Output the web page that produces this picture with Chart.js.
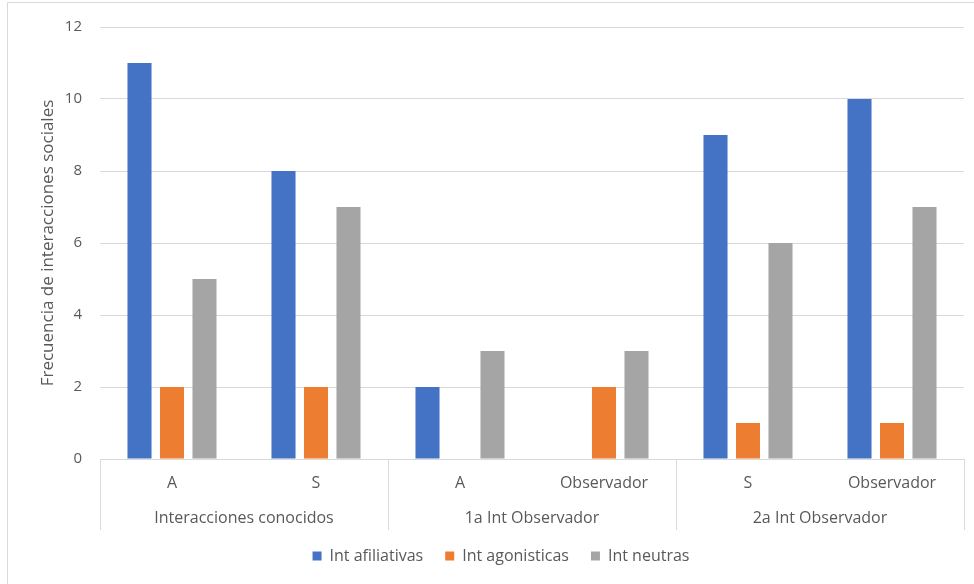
<!DOCTYPE html>
<html>
<head>
<meta charset="utf-8">
<script src="https://cdn.jsdelivr.net/npm/chart.js@4"></script>
<style>
  html, body { margin: 0; padding: 0; background: #ffffff; }
  #wrap { position: relative; width: 974px; height: 584px; }
</style>
</head>
<body>
<div id="wrap"><canvas id="chart" width="974" height="584"></canvas></div>
<script>
// Category labels: inner level (per bar group) and outer level (session)
const subLabels = ['A', 'S', 'A', 'Observador', 'S', 'Observador'];
const groupLabels = ['Interacciones conocidos', '1a Int Observador', '2a Int Observador'];
const groupSizes = [2, 2, 2];

// Series values
const seriesNames = ['Int afiliativas', 'Int agonisticas', 'Int neutras'];
const afiliativas = [11, 8, 2, 0, 9, 10];
const agonisticas = [2, 2, 0, 2, 1, 1];
const neutras = [5, 7, 3, 3, 6, 7];

// Value axis ticks
const yMin = 0, yMax = 12, yStep = 2;
const yTitle = 'Frecuencia de interacciones sociales';

const FONT = "'Open Sans', 'Noto Sans', sans-serif";
const TEXT = '#595959';
const LINE = '#D9D9D9';
const COLORS = ['#4472C4', '#ED7D31', '#A5A5A5'];

// Outer frame of the chart object
const framePlugin = {
  id: 'frame',
  beforeDraw(chart) {
    const ctx = chart.ctx;
    ctx.save();
    ctx.fillStyle = '#ffffff';
    ctx.fillRect(0, 0, chart.width, chart.height);
    ctx.strokeStyle = LINE;
    ctx.lineWidth = 1;
    ctx.beginPath();
    ctx.moveTo(7.5, chart.height);
    ctx.lineTo(7.5, 2.5);
    ctx.lineTo(chart.width, 2.5);
    ctx.stroke();
    ctx.restore();
  }
};

// Two-level category axis: separators between sessions and session names
const groupAxisPlugin = {
  id: 'groupAxis',
  afterDraw(chart) {
    const x = chart.scales.x;
    const area = chart.chartArea;
    const ctx = chart.ctx;
    const n = subLabels.length;
    const boundary = (i) => {
      if (i <= 0) return area.left;
      if (i >= n) return area.right;
      return (x.getPixelForValue(i - 1) + x.getPixelForValue(i)) / 2;
    };
    ctx.save();
    ctx.strokeStyle = LINE;
    ctx.lineWidth = 1;
    let start = 0;
    const edges = [0];
    groupSizes.forEach(s => { start += s; edges.push(start); });
    edges.forEach(i => {
      const px = Math.round(boundary(i)) + 0.5;
      ctx.beginPath();
      ctx.moveTo(px, area.bottom);
      ctx.lineTo(px, area.bottom + 71);
      ctx.stroke();
    });
    ctx.fillStyle = TEXT;
    ctx.font = "16px " + FONT;
    ctx.textAlign = 'center';
    ctx.textBaseline = 'middle';
    groupLabels.forEach((g, k) => {
      const cx = (boundary(edges[k]) + boundary(edges[k + 1])) / 2;
      ctx.fillText(g, cx, area.bottom + 59);
    });
    ctx.restore();
  }
};

new Chart(document.getElementById('chart'), {
  type: 'bar',
  data: {
    labels: subLabels,
    datasets: [
      { label: seriesNames[0], data: afiliativas, backgroundColor: COLORS[0] },
      { label: seriesNames[1], data: agonisticas, backgroundColor: COLORS[1] },
      { label: seriesNames[2], data: neutras, backgroundColor: COLORS[2] }
    ]
  },
  options: {
    responsive: false,
    animation: false,
    layout: { padding: { left: 38, right: 10, top: 25, bottom: 10 } },
    datasets: {
      bar: { categoryPercentage: 0.677, barPercentage: 0.74, borderWidth: 0 }
    },
    scales: {
      x: {
        grid: { display: false, drawTicks: false },
        border: { display: true, color: LINE },
        ticks: { color: TEXT, font: { family: FONT, size: 16 }, padding: 15, maxRotation: 0, autoSkip: false },
        afterFit(scale) { scale.height = 67; }
      },
      y: {
        min: yMin, max: yMax,
        grid: { color: LINE, drawTicks: false },
        border: { display: false },
        ticks: { stepSize: yStep, color: TEXT, font: { family: FONT, size: 15 }, padding: 18 },
        title: { display: true, text: yTitle, color: TEXT, font: { family: FONT, size: 17 }, padding: { top: 0, bottom: 0 } },
        afterFit(scale) { scale.width = 62; }
      }
    },
    plugins: {
      legend: {
        position: 'bottom',
        labels: { color: TEXT, font: { family: FONT, size: 16 }, boxWidth: 9, boxHeight: 9, padding: 22 }
      },
      tooltip: { enabled: false }
    }
  },
  plugins: [framePlugin, groupAxisPlugin]
});
</script>
</body>
</html>
